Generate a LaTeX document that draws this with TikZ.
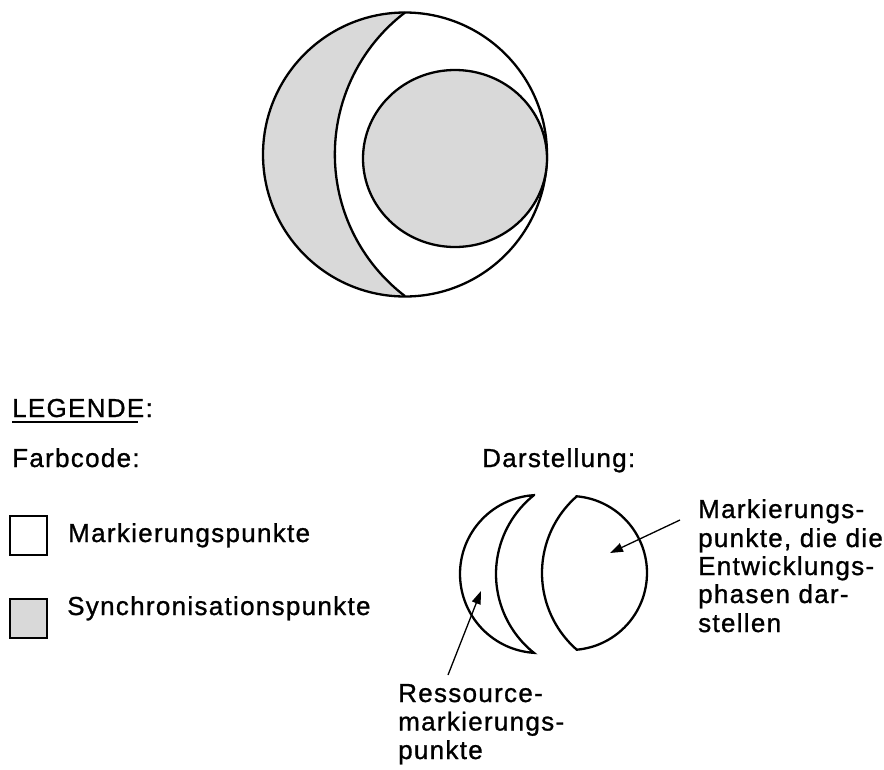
\documentclass[tikz,border=0pt]{standalone}
\usepackage{fontspec}
\setmainfont{Liberation Sans}[LetterSpace=5,FakeBold=1]
\usetikzlibrary{arrows.meta}
\definecolor{syncgray}{RGB}{217,217,217}
\begin{document}
\begin{tikzpicture}[x=1pt,y=-1pt,
  shapeline/.style={line width=2.3pt, draw=black},
  lbl/.style={anchor=base west, inner sep=0pt, font=\fontsize{26}{28}\selectfont},
  pointer/.style={line width=1.3pt, -{Triangle[length=13pt,width=9pt]}},
  keybox/.style={shapeline, minimum width=37pt, minimum height=39pt, inner sep=0pt, anchor=north west}
]
\useasboundingbox (0,0) rectangle (884,769);

% ---------- main figure ----------
\fill[syncgray] (405,12.5) arc[start angle=270,end angle=90,radius=142]
                 arc[start angle=127.35,end angle=232.65,radius=178.4] -- cycle;
\draw[shapeline] (405,154.5) circle[radius=142];
\draw[shapeline] (405,12.5) arc[start angle=232.65,end angle=127.35,radius=178.4];
\draw[shapeline, fill=syncgray] (455,158.5) ellipse[x radius=92, y radius=88.5];

% ---------- legend ----------
\node[lbl] (legende) at (12,417) {LEGENDE:};
\draw[line width=2.2pt] (12,422) -- (138,422);
\node[lbl] (farbcode) at (12,467) {Farbcode:};
\node[lbl] (darst) at (482,467) {Darstellung:};

\node[keybox] (boxwhite) at (9,515) {};
\node[lbl] (markp) at (68,542) {Markierungspunkte};
\node[keybox, fill=syncgray] (boxgray) at (9,598) {};
\node[lbl] (syncp) at (67,615) {Synchronisationspunkte};

% crescent (resource marking points)
\draw[shapeline, line join=miter] (533.86,495.17) arc[start angle=266.27,end angle=93.73,radius=79]
      arc[start angle=128.7,end angle=231.3,radius=101] -- cycle;
% lens (phase marking points)
\draw[shapeline, line join=miter] (576.76,496.3) arc[start angle=-84.96,end angle=84.96,radius=77]
      arc[start angle=131.24,end angle=228.76,radius=102] -- cycle;

% right annotation
\node[lbl] (ann1) at (698,518) {Markierungs-};
\node[lbl] (ann2) at (698,547) {punkte, die die};
\node[lbl] (ann3) at (698,575) {Entwicklungs-};
\node[lbl] (ann4) at (698,603) {phasen dar-};
\node[lbl] (ann5) at (698,632) {stellen};

% bottom annotation
\node[lbl] (res1) at (398,702) {Ressource-};
\node[lbl] (res2) at (398,730.5) {markierungs-};
\node[lbl] (res3) at (398,759) {punkte};

% arrows
\coordinate (fromMark) at (680,520);
\coordinate (tipLens) at (610,553);
\coordinate (fromRes) at (448,675);
\coordinate (tipCres) at (481,591);
\draw[pointer] (fromMark) -- (tipLens);
\draw[pointer] (fromRes) -- (tipCres);
\end{tikzpicture}
\end{document}
